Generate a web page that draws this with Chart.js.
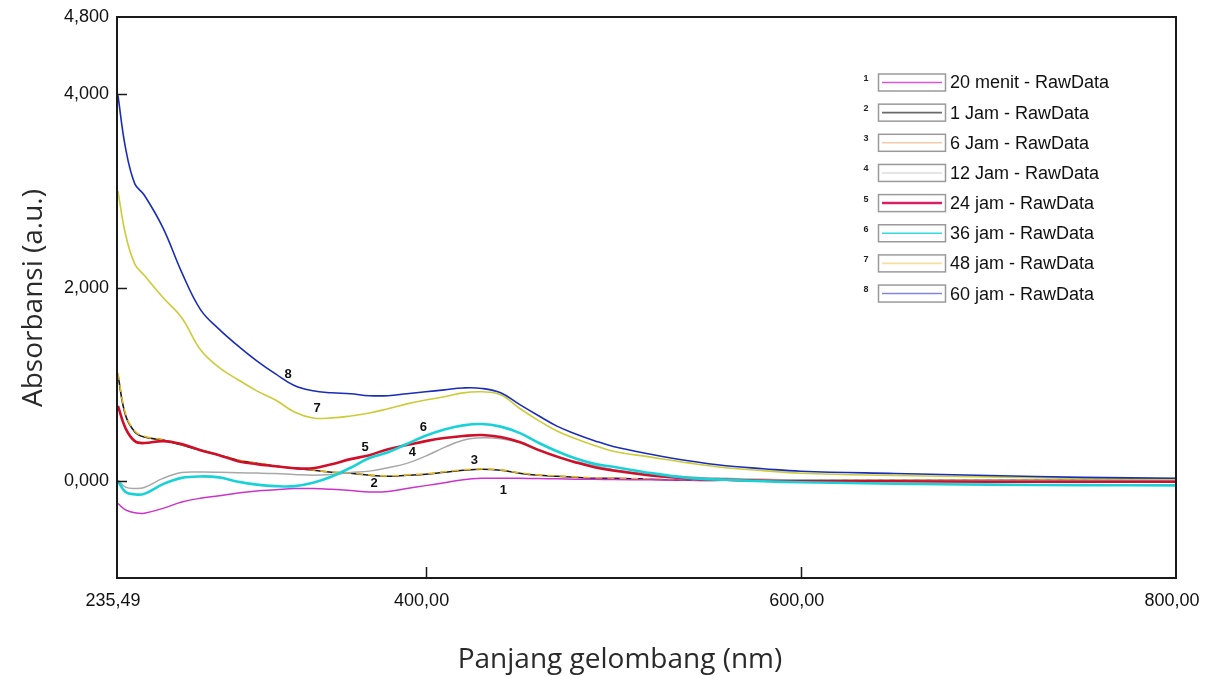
<!DOCTYPE html>
<html>
<head>
<meta charset="utf-8">
<script src="https://cdn.jsdelivr.net/npm/chart.js@4.4.1/dist/chart.umd.min.js"></script>
<style>
  html, body { margin: 0; padding: 0; background: #ffffff; }
  #wrap { width: 1205px; height: 676px; position: relative; }
</style>
</head>
<body>
<div id="wrap"><canvas id="c" width="1205" height="676"></canvas></div>
<script>
// ---------- DATA ----------
const wavelengths = [236, 240, 245, 250, 260, 270, 280, 290, 300, 310, 320, 330, 340, 350, 360, 370, 380, 390, 400, 410, 420, 430, 440, 450, 460, 470, 480, 490, 500, 520, 540, 560, 580, 600, 650, 700, 750, 800];

const seriesNames = ["20 menit - RawData", "1 Jam - RawData", "6 Jam - RawData", "12 Jam - RawData", "24 jam - RawData", "36 jam - RawData", "48 jam - RawData", "60 jam - RawData"];
const seriesNumbers = ["1", "2", "3", "4", "5", "6", "7", "8"];

const s1_20menit = [-230, -295, -325, -330, -280, -215, -175, -150, -120, -100, -88, -75, -75, -83, -95, -110, -105, -75, -45, -15, 15, 30, 32, 30, 28, 25, 22, 20, 18, 15, 12, 10, 8, 5, 3, 0, 0, 0];
const s2_1jam = [1100, 685, 510, 457, 426, 374, 322, 270, 218, 187, 156, 135, 114, 93, 83, 62, 52, 62, 73, 93, 114, 125, 114, 83, 62, 52, 42, 31, 31, 21, 10, 10, 10, 10, 10, 10, 10, 10];
const s3_6jam = [1120, 700, 520, 465, 430, 378, 325, 272, 220, 190, 160, 138, 116, 96, 86, 66, 56, 66, 78, 98, 118, 128, 118, 88, 66, 56, 46, 35, 33, 24, 15, 14, 13, 12, 12, 12, 12, 12];
const s4_12jam = [10, -60, -75, -65, 30, 90, 95, 93, 88, 85, 80, 70, 62, 70, 90, 105, 140, 185, 260, 350, 425, 450, 440, 400, 330, 260, 205, 160, 120, 75, 45, 30, 20, 15, 10, 10, 10, 10];
const s5_24jam = [780, 550, 415, 395, 415, 384, 322, 270, 208, 177, 156, 135, 135, 177, 229, 270, 332, 374, 415, 447, 468, 478, 457, 405, 325, 255, 195, 145, 112, 60, 30, 15, 5, 0, 0, -5, -5, -5];
const s6_36jam = [0, -110, -135, -130, -30, 35, 50, 40, -5, -35, -50, -50, -15, 50, 140, 240, 300, 385, 470, 535, 578, 592, 565, 500, 400, 310, 235, 180, 150, 85, 35, 15, 0, -10, -25, -35, -40, -42];
const s7_48jam = [3000, 2555, 2245, 2130, 1900, 1690, 1360, 1175, 1050, 935, 840, 717, 655, 655, 675, 705, 750, 800, 840, 873, 914, 925, 895, 755, 630, 520, 440, 370, 310, 250, 190, 140, 110, 83, 60, 45, 30, 21];
const s8_60jam = [3990, 3450, 3075, 2960, 2620, 2160, 1775, 1570, 1400, 1245, 1110, 990, 935, 915, 905, 885, 885, 905, 925, 945, 965, 960, 915, 795, 680, 570, 490, 420, 360, 280, 212, 160, 130, 104, 80, 60, 40, 31];

const allSeries = [s1_20menit, s2_1jam, s3_6jam, s4_12jam, s5_24jam, s6_36jam, s7_48jam, s8_60jam];

const xTickValues = [235.49, 400, 600, 800];
const yTickValues = [0, 2000, 4000, 4800];
const xMin = 235.49, xMax = 800;
const yMin = -1000, yMax = 4800;

// curve number labels (wavelength, absorbance)
const curveLabelX = [441.5, 372.6, 426, 392.9, 367.8, 398.8, 342.2, 326.7];
const curveLabelY = [-94, -21, 218, 301, 353, 561, 758, 1101];

// ---------- STYLES ----------
const lineColors = ["#cc33cc", "#1a1a1a", "#e3b52a", "#a8a8a8", "#d0102a", "#19d2d8", "#cccc3a", "#1a2db8"];
const legendColors = ["#d955d9", "#6a6a6a", "#f3cba8", "#dcdcdc", "#d62060", "#33dddd", "#f5e0a0", "#8585dd"];
const lineWidths = [1.5, 1.6, 1.6, 1.5, 2.6, 2.6, 1.6, 1.6];
const lineDash = [[], [], [7, 5], [], [], [], [], []];
const drawOrder = [5, 7, 6, 4, 3, 2, 1, 0];

const datasets = allSeries.map((arr, i) => ({
  label: seriesNames[i],
  data: wavelengths.map((w, k) => ({ x: w, y: arr[k] })),
  borderColor: lineColors[i],
  borderWidth: lineWidths[i],
  borderDash: lineDash[i],
  pointRadius: 0,
  fill: false,
  tension: 0.4,
  order: drawOrder[i]
}));

const fmtX = v => Number(v).toFixed(2).replace('.', ',');
const fmtY = v => (Number(v) / 1000).toFixed(3).replace('.', ',');

const decorPlugin = {
  id: 'decor',
  afterDatasetsDraw(chart) {
    const ctx = chart.ctx;
    const a = chart.chartArea;
    const xs = chart.scales.x, ys = chart.scales.y;
    ctx.save();
    // frame
    ctx.strokeStyle = '#1a1a1a';
    ctx.lineWidth = 2;
    ctx.strokeRect(a.left, a.top, a.right - a.left, a.bottom - a.top);
    // inward ticks
    ctx.lineWidth = 1.5;
    ctx.beginPath();
    yTickValues.forEach(v => {
      if (v === yMax) return;
      const py = Math.round(ys.getPixelForValue(v)) + 0.5;
      ctx.moveTo(a.left, py); ctx.lineTo(a.left + 10, py);
    });
    xTickValues.forEach(v => {
      if (v === xMin || v === xMax) return;
      const px = Math.round(xs.getPixelForValue(v)) + 0.5;
      ctx.moveTo(px, a.bottom); ctx.lineTo(px, a.bottom - 11);
    });
    ctx.stroke();

    // curve numbers
    ctx.fillStyle = '#111';
    ctx.font = 'bold 13px "Liberation Sans", Arial, sans-serif';
    ctx.textAlign = 'center';
    ctx.textBaseline = 'middle';
    seriesNumbers.forEach((n, i) => {
      ctx.fillText(n, xs.getPixelForValue(curveLabelX[i]), ys.getPixelForValue(curveLabelY[i]));
    });

    // legend
    const rowY0 = 82.5, rowGap = 30.15;
    seriesNames.forEach((name, i) => {
      const cy = rowY0 + i * rowGap;
      ctx.fillStyle = '#222';
      ctx.font = 'bold 9px "Liberation Sans", Arial, sans-serif';
      ctx.textAlign = 'center';
      ctx.textBaseline = 'middle';
      ctx.fillText(seriesNumbers[i], 866, cy - 4);
      ctx.strokeStyle = '#9a9a9a';
      ctx.lineWidth = 1.5;
      ctx.strokeRect(878.5, cy - 8.5, 67, 17);
      ctx.strokeStyle = legendColors[i];
      ctx.lineWidth = (i === 4) ? 2.5 : 1.6;
      ctx.beginPath();
      ctx.moveTo(882, cy); ctx.lineTo(942, cy);
      ctx.stroke();
      ctx.fillStyle = '#111';
      ctx.font = '18px "Liberation Sans", Arial, sans-serif';
      ctx.textAlign = 'left';
      ctx.fillText(name, 950, cy + 1);
    });

    // axis titles
    ctx.fillStyle = '#2a2a2a';
    ctx.font = '28px "Open Sans", sans-serif';
    ctx.textAlign = 'center';
    ctx.textBaseline = 'alphabetic';
    ctx.fillText('Panjang gelombang (nm)', 620, 668);
    ctx.save();
    ctx.translate(42, 298);
    ctx.rotate(-Math.PI / 2);
    ctx.fillText('Absorbansi (a.u.)', 0, 0);
    ctx.restore();
    ctx.restore();
  }
};

new Chart(document.getElementById('c'), {
  type: 'line',
  data: { datasets },
  options: {
    responsive: false,
    animation: false,
    layout: { padding: { left: 0, right: 29, top: 17, bottom: 0 } },
    plugins: { legend: { display: false }, tooltip: { enabled: false } },
    scales: {
      x: {
        type: 'linear', min: xMin, max: xMax,
        afterBuildTicks: s => { s.ticks = xTickValues.map(v => ({ value: v })); },
        afterFit: s => { s.height = 98; s.paddingLeft = 0; s.paddingRight = 0; },
        grid: { display: false, drawTicks: false },
        border: { display: false },
        ticks: {
          callback: v => fmtX(v),
          color: '#111',
          font: { family: '"Liberation Sans", Arial, sans-serif', size: 18 },
          padding: 12, maxRotation: 0, autoSkip: false, labelOffset: -4
        }
      },
      y: {
        type: 'linear', min: yMin, max: yMax,
        afterBuildTicks: s => { s.ticks = yTickValues.map(v => ({ value: v })); },
        afterFit: s => { s.width = 117; s.paddingTop = 0; s.paddingBottom = 0; },
        grid: { display: false, drawTicks: false },
        border: { display: false },
        ticks: {
          callback: v => fmtY(v),
          color: '#111',
          font: { family: '"Liberation Sans", Arial, sans-serif', size: 18 },
          padding: 8, autoSkip: false
        }
      }
    }
  },
  plugins: [decorPlugin]
});
</script>
</body>
</html>
